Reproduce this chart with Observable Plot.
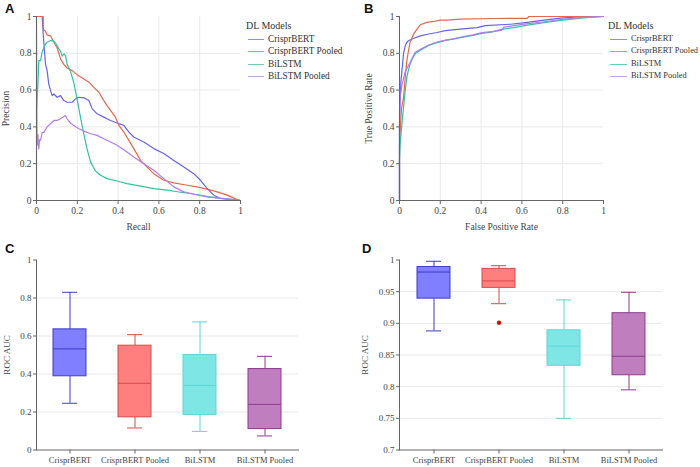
<!DOCTYPE html>
<html>
<head>
<meta charset="utf-8">
<script src="https://cdn.jsdelivr.net/npm/d3@7"></script>
<script src="https://cdn.jsdelivr.net/npm/@observablehq/plot@0.6"></script>
<style>
  html, body { margin: 0; padding: 0; background: #fff; }
  #fig { position: relative; width: 700px; height: 467px; overflow: hidden; font-family: "Liberation Serif", "Times New Roman", serif; }
  .panel { position: absolute; }
  .panel svg { overflow: visible; font-family: "Liberation Serif", "Times New Roman", serif !important; }
  .letter { position: absolute; font-family: "Liberation Sans", Arial, sans-serif; font-weight: bold; font-size: 13px; line-height: 13px; color: #111; }
  .lg-title { position: absolute; font-size: 10px; line-height: 10px; color: #333; white-space: nowrap; }
  .lg-row { position: absolute; line-height: 10px; color: #333; white-space: nowrap; }
  .lg-line { position: absolute; height: 0; border-top: 1px solid; opacity: 0.75; }
</style>
</head>
<body>
<div id="fig"></div>
<script>
// ---------- Data ----------
const models = ["CrisprBERT", "CrisprBERT Pooled", "BiLSTM", "BiLSTM Pooled"];

// Panel A: precision-recall curves
const prBertRecall = [0, 0.028, 0.033, 0.044, 0.052, 0.06, 0.069, 0.077, 0.085, 0.101, 0.118, 0.134, 0.15, 0.175, 0.191, 0.208, 0.232, 0.257, 0.273, 0.297, 0.33, 0.363, 0.395, 0.428, 0.453, 0.477, 0.526, 0.575, 0.624, 0.673, 0.722, 0.771, 0.804, 0.837, 0.869, 0.902, 0.967, 1];
const prBertPrecision = [1, 1, 0.904, 0.742, 0.706, 0.634, 0.597, 0.57, 0.579, 0.561, 0.57, 0.543, 0.534, 0.534, 0.552, 0.561, 0.558, 0.543, 0.498, 0.471, 0.453, 0.435, 0.421, 0.408, 0.372, 0.345, 0.318, 0.282, 0.255, 0.218, 0.182, 0.146, 0.11, 0.065, 0.029, 0.011, 0.005, 0];
const prBertPooledRecall = [0, 0.033, 0.033, 0.044, 0.052, 0.069, 0.085, 0.101, 0.118, 0.134, 0.15, 0.175, 0.199, 0.232, 0.257, 0.281, 0.306, 0.33, 0.346, 0.363, 0.387, 0.404, 0.428, 0.453, 0.477, 0.51, 0.542, 0.575, 0.624, 0.673, 0.739, 0.804, 0.869, 0.935, 0.984, 1];
const prBertPooledPrecision = [1, 1, 0.93, 0.92, 0.9, 0.895, 0.86, 0.83, 0.77, 0.74, 0.72, 0.706, 0.684, 0.66, 0.643, 0.615, 0.588, 0.543, 0.516, 0.49, 0.453, 0.408, 0.372, 0.327, 0.282, 0.218, 0.182, 0.146, 0.11, 0.096, 0.083, 0.07, 0.052, 0.029, 0.005, 0];
const prLstmRecall = [0, 0.007, 0.011, 0.02, 0.028, 0.036, 0.044, 0.052, 0.069, 0.085, 0.093, 0.101, 0.118, 0.126, 0.134, 0.142, 0.15, 0.167, 0.183, 0.199, 0.216, 0.232, 0.248, 0.265, 0.289, 0.314, 0.346, 0.395, 0.444, 0.51, 0.575, 0.641, 0.706, 0.755, 0.85, 1];
const prLstmPrecision = [0.5, 0.634, 0.76, 0.76, 0.81, 0.83, 0.85, 0.86, 0.87, 0.866, 0.857, 0.84, 0.81, 0.785, 0.796, 0.787, 0.742, 0.7, 0.64, 0.55, 0.45, 0.36, 0.28, 0.21, 0.16, 0.137, 0.119, 0.106, 0.092, 0.078, 0.065, 0.056, 0.045, 0.038, 0.02, 0];
const prLstmPooledRecall = [0, 0, 0.003, 0.007, 0.011, 0.015, 0.02, 0.028, 0.036, 0.052, 0.069, 0.085, 0.101, 0.118, 0.134, 0.142, 0.15, 0.167, 0.183, 0.208, 0.232, 0.265, 0.297, 0.33, 0.363, 0.395, 0.428, 0.477, 0.526, 0.575, 0.624, 0.673, 0.722, 0.771, 0.837, 0.902, 0.967, 1];
const prLstmPooledPrecision = [0, 1, 0.3, 0.36, 0.28, 0.33, 0.327, 0.37, 0.37, 0.4, 0.417, 0.435, 0.435, 0.444, 0.457, 0.462, 0.444, 0.42, 0.408, 0.39, 0.377, 0.363, 0.354, 0.336, 0.318, 0.3, 0.276, 0.236, 0.2, 0.164, 0.119, 0.074, 0.047, 0.034, 0.02, 0.011, 0.005, 0];

// Panel B: ROC curves
const rocBertFpr = [0, 0, 0.003, 0.007, 0.012, 0.02, 0.028, 0.036, 0.044, 0.061, 0.102, 0.143, 0.184, 0.225, 0.298, 0.38, 0.42, 0.544, 0.626, 0.708, 0.79, 0.872, 1];
const rocBertTpr = [0, 0.4, 0.54, 0.65, 0.706, 0.8, 0.84, 0.86, 0.868, 0.878, 0.895, 0.905, 0.913, 0.923, 0.931, 0.94, 0.95, 0.958, 0.968, 0.98, 0.991, 0.998, 1];
const rocBertPooledFpr = [0, 0, 0.005, 0.01, 0.02, 0.028, 0.036, 0.044, 0.052, 0.069, 0.085, 0.102, 0.134, 0.167, 0.2, 0.233, 0.298, 0.462, 0.626, 0.634, 1];
const rocBertPooledTpr = [0, 0.3, 0.42, 0.5, 0.56, 0.67, 0.76, 0.814, 0.86, 0.904, 0.93, 0.955, 0.968, 0.973, 0.98, 0.98, 0.986, 0.989, 0.99, 1, 1];
const rocLstmFpr = [0, 0, 0.003, 0.007, 0.012, 0.02, 0.028, 0.036, 0.044, 0.052, 0.065, 0.077, 0.1, 0.143, 0.18, 0.225, 0.27, 0.307, 0.36, 0.405, 0.45, 0.5, 0.56, 0.62, 0.7, 0.8, 0.9, 1];
const rocLstmTpr = [0, 0.22, 0.3, 0.35, 0.42, 0.507, 0.598, 0.67, 0.71, 0.743, 0.775, 0.797, 0.815, 0.843, 0.857, 0.87, 0.878, 0.887, 0.897, 0.908, 0.915, 0.93, 0.94, 0.952, 0.965, 0.98, 0.993, 1];
const rocLstmPooledFpr = [0, 0, 0.003, 0.012, 0.02, 0.028, 0.04, 0.052, 0.065, 0.077, 0.1, 0.143, 0.18, 0.225, 0.27, 0.307, 0.36, 0.405, 0.45, 0.5, 0.512, 0.56, 0.62, 0.7, 0.8, 0.9, 1];
const rocLstmPooledTpr = [0, 0.49, 0.56, 0.63, 0.665, 0.7, 0.725, 0.75, 0.78, 0.806, 0.82, 0.845, 0.86, 0.872, 0.88, 0.89, 0.9, 0.912, 0.918, 0.925, 0.942, 0.95, 0.96, 0.97, 0.985, 0.995, 1];

// Panel C: box statistics (ROC AUC)
const cMin = [0.246, 0.116, 0.098, 0.074];
const cQ1 = [0.388, 0.172, 0.184, 0.11];
const cMedian = [0.532, 0.351, 0.34, 0.24];
const cQ3 = [0.635, 0.549, 0.5, 0.426];
const cMax = [0.83, 0.607, 0.674, 0.493];
const cOutlierModels = [];
const cOutlierValues = [];

// Panel D: box statistics (ROC AUC)
const dMin = [0.888, 0.931, 0.75, 0.795];
const dQ1 = [0.939, 0.956, 0.833, 0.818];
const dMedian = [0.981, 0.967, 0.864, 0.848];
const dQ3 = [0.989, 0.986, 0.889, 0.916];
const dMax = [0.998, 0.991, 0.937, 0.949];
const dOutlierModels = ["CrisprBERT Pooled"];
const dOutlierValues = [0.901];

// Tick values
const unitTicks = [0, 0.2, 0.4, 0.6, 0.8, 1];
const unitGrid = [0.2, 0.4, 0.6, 0.8];
const dTicks = [0.7, 0.75, 0.8, 0.85, 0.9, 0.95, 1];
const dGrid = [0.75, 0.8, 0.85, 0.9, 0.95];

// ---------- Styles ----------
const lineColors = ["#6464ee", "#e8664e", "#31c49f", "#b07cf0"];
const boxFill = ["#7f7fff", "#ff7f7f", "#7fe6e6", "#bf7fbf"];
const boxStroke = ["#3c3cc8", "#d84a4a", "#5cd6d6", "#8c3c8c"];
const axisColor = "#666";
const textColor = "#444";
const gridColor = "#e9e9e9";
const serif = "'Liberation Serif', 'Times New Roman', serif";
const fmt = d3.format("~g");

// ---------- Build tables ----------
function curveRows(xsList, ysList) {
  const rows = [];
  models.forEach((m, i) => {
    xsList[i].forEach((x, j) => rows.push({model: m, x, y: ysList[i][j]}));
  });
  return rows;
}
const prRows = curveRows(
  [prBertRecall, prBertPooledRecall, prLstmRecall, prLstmPooledRecall],
  [prBertPrecision, prBertPooledPrecision, prLstmPrecision, prLstmPooledPrecision]);
const rocRows = curveRows(
  [rocBertFpr, rocBertPooledFpr, rocLstmFpr, rocLstmPooledFpr],
  [rocBertTpr, rocBertPooledTpr, rocLstmTpr, rocLstmPooledTpr]);

function boxRows(mins, q1s, meds, q3s, maxs) {
  return models.map((m, i) => ({model: m, idx: i, min: mins[i], q1: q1s[i], median: meds[i], q3: q3s[i], max: maxs[i]}));
}
const cRows = boxRows(cMin, cQ1, cMedian, cQ3, cMax);
const dRows = boxRows(dMin, dQ1, dMedian, dQ3, dMax);
const cOutliers = cOutlierModels.map((m, i) => ({model: m, idx: models.indexOf(m), value: cOutlierValues[i]}));
const dOutliers = dOutlierModels.map((m, i) => ({model: m, idx: models.indexOf(m), value: dOutlierValues[i]}));

// ---------- Panels ----------
function curvePanel(rows, xLabel, yLabel) {
  return Plot.plot({
    width: 245, height: 235,
    marginLeft: 36, marginRight: 5, marginTop: 16, marginBottom: 35,
    style: `font-family: ${serif}; font-size: 9.5px; color: ${textColor}; background: transparent; overflow: visible;`,
    x: {domain: [0, 1]},
    y: {domain: [0, 1]},
    color: {domain: models, range: lineColors},
    marks: [
      Plot.gridX(unitGrid, {stroke: gridColor, strokeOpacity: 1}),
      Plot.gridY(unitGrid, {stroke: gridColor, strokeOpacity: 1}),
      Plot.line(rows, {x: "x", y: "y", z: "model", stroke: "model", strokeWidth: 1.2}),
      Plot.ruleY([0], {stroke: axisColor}),
      Plot.ruleX([0], {stroke: axisColor}),
      Plot.axisX(unitTicks, {tickSize: 4, tickPadding: 3, tickFormat: fmt, stroke: axisColor, fill: textColor, fontFamily: serif, fontSize: 9.5,
        label: xLabel, labelAnchor: "center", labelOffset: 29, labelArrow: "none"}),
      Plot.axisY(unitTicks, {tickSize: 3, tickPadding: 2, tickFormat: fmt, stroke: axisColor, fill: textColor, fontFamily: serif, fontSize: 9.5,
        label: yLabel, labelAnchor: "center", labelOffset: 34, labelArrow: "none"})
    ]
  });
}

function boxPanel(rows, outliers, yDomain, yTicks, yGrid, marginLeft, marginRight, labelOffset) {
  return Plot.plot({
    width: 350, height: 227,
    marginLeft, marginRight, marginTop: 19.5, marginBottom: 17.5,
    style: `font-family: ${serif}; font-size: 9px; color: ${textColor}; background: transparent; overflow: visible;`,
    x: {domain: models, paddingInner: 0.5, paddingOuter: 0.25},
    y: {domain: yDomain},
    color: {type: "identity"},
    marks: [
      Plot.gridY(yGrid, {stroke: gridColor, strokeOpacity: 1}),
      Plot.ruleX(rows, {x: "model", y1: "min", y2: "q1", stroke: d => boxStroke[d.idx]}),
      Plot.ruleX(rows, {x: "model", y1: "q3", y2: "max", stroke: d => boxStroke[d.idx]}),
      Plot.tickY(rows, {x: "model", y: "min", stroke: d => boxStroke[d.idx], insetLeft: 9, insetRight: 9}),
      Plot.tickY(rows, {x: "model", y: "max", stroke: d => boxStroke[d.idx], insetLeft: 9, insetRight: 9}),
      Plot.barY(rows, {x: "model", y1: "q1", y2: "q3", fill: d => boxFill[d.idx], stroke: d => boxStroke[d.idx], strokeWidth: 1}),
      Plot.tickY(rows, {x: "model", y: "median", stroke: d => boxStroke[d.idx]}),
      Plot.dot(outliers, {x: "model", y: "value", r: 2.2, fill: "#d01010", stroke: "none"}),
      Plot.frame({anchor: "bottom", stroke: axisColor}),
      Plot.frame({anchor: "left", stroke: axisColor}),
      Plot.axisX({tickSize: 4, tickPadding: 3, stroke: axisColor, fill: textColor, fontFamily: serif, fontSize: 8.5, label: null}),
      Plot.axisY(yTicks, {tickSize: 3, tickPadding: 2, tickFormat: fmt, stroke: axisColor, fill: textColor, fontFamily: serif, fontSize: 9,
        label: "ROC AUC", labelAnchor: "center", labelOffset, labelArrow: "none"})
    ]
  });
}

// ---------- Layout ----------
const fig = document.getElementById("fig");
function place(node, left, top) {
  const wrap = document.createElement("div");
  wrap.className = "panel";
  wrap.style.left = left + "px";
  wrap.style.top = top + "px";
  wrap.appendChild(node);
  fig.appendChild(wrap);
}
function letter(txt, left, top) {
  const d = document.createElement("div");
  d.className = "letter";
  d.textContent = txt;
  d.style.left = left + "px";
  d.style.top = top + "px";
  fig.appendChild(d);
}
function legend(left, top, lineLen, gap, itemSize) {
  const t = document.createElement("div");
  t.className = "lg-title";
  t.textContent = "DL Models";
  t.style.left = left + "px";
  t.style.top = (top - 5) + "px";
  fig.appendChild(t);
  models.forEach((m, i) => {
    const cy = top + 12.6 * (i + 1);
    const ln = document.createElement("div");
    ln.className = "lg-line";
    ln.style.left = (left + 2) + "px";
    ln.style.width = lineLen + "px";
    ln.style.top = Math.round(cy) + "px";
    ln.style.borderTopColor = lineColors[i];
    fig.appendChild(ln);
    const r = document.createElement("div");
    r.className = "lg-row";
    r.style.fontSize = itemSize + "px";
    r.textContent = m;
    r.style.left = (left + 2 + lineLen + gap) + "px";
    r.style.top = (cy - 5) + "px";
    fig.appendChild(r);
  });
}

place(curvePanel(prRows, "Recall", "Precision"), 0, 0);
place(curvePanel(rocRows, "False Positive Rate", "True Positive Rate"), 363, 0);
place(boxPanel(cRows, cOutliers, [0, 1], unitTicks, unitGrid, 36, 52, 33), 0, 240);
place(boxPanel(dRows, dOutliers, [0.7, 1], dTicks, dGrid, 49, 38, 37.5), 350, 240);

letter("A", 5, 2);
letter("B", 364, 2);
letter("C", 5, 241.5);
letter("D", 362, 241.5);

legend(246, 26, 16, 4, 9.3);
legend(608, 26, 17, 4, 8.4);
</script>
</body>
</html>
